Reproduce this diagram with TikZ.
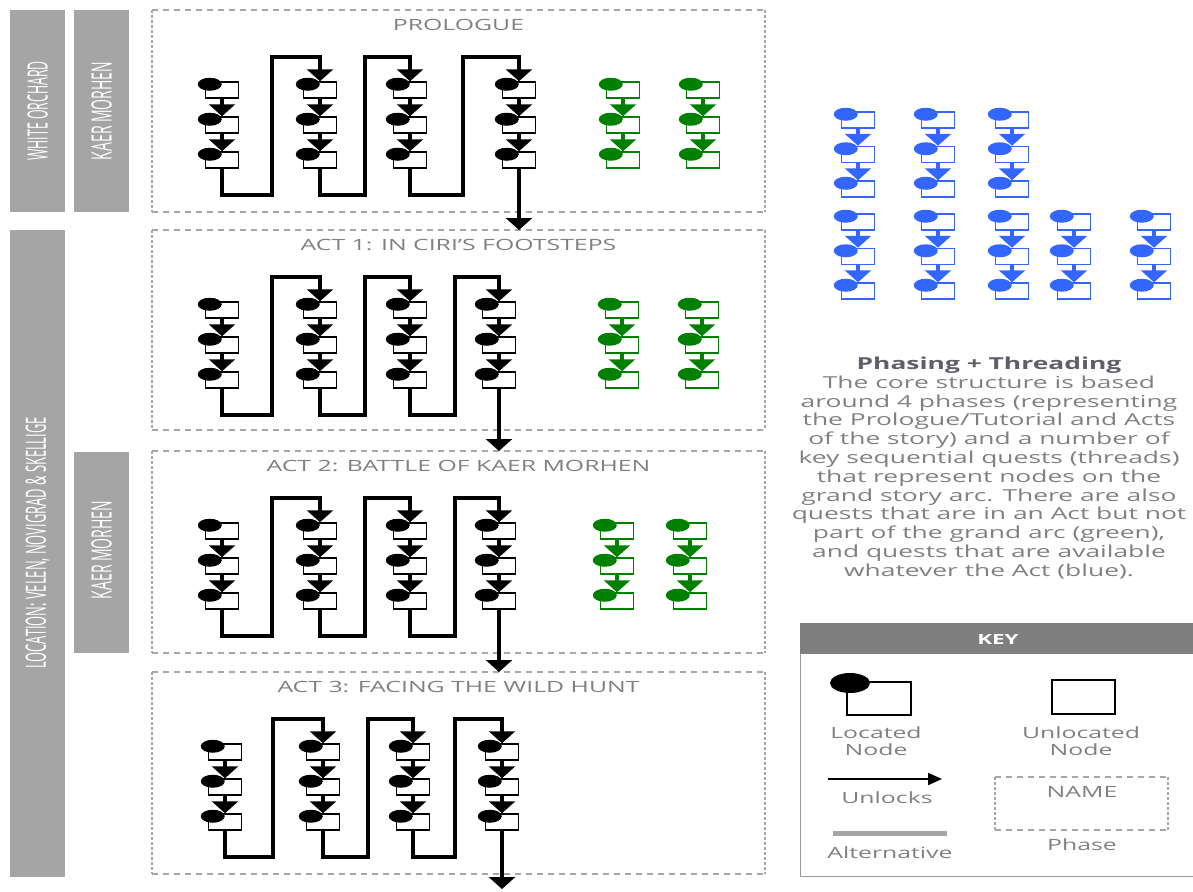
\documentclass[tikz,border=0pt]{standalone}
\usepackage{fontspec}
\setmainfont{Open Sans}
\newfontfamily\widefont[FakeStretch=1.6]{Open Sans}
\newfontfamily\narrowfont[FakeStretch=0.5]{Open Sans}
\newfontfamily\narrowerfont[FakeStretch=0.44]{Open Sans}
\newfontfamily\locfont[FakeStretch=0.46]{Open Sans}
\usetikzlibrary{arrows.meta,shapes.geometric,calc}
\definecolor{bargray}{HTML}{A5A5A5}
\definecolor{dashgray}{HTML}{A6A6A6}
\definecolor{txtgray}{HTML}{808080}
\definecolor{headgray}{HTML}{5F5F66}
\definecolor{qgreen}{HTML}{008000}
\definecolor{qblue}{HTML}{3366FF}
\definecolor{keyhead}{HTML}{7F7F7F}
\definecolor{keyline}{HTML}{9A9A9A}

\tikzset{
  qbox/.style={draw=#1, line width=1.5pt, rectangle, minimum width=33pt, minimum height=16pt, inner sep=0pt},
  qdot/.style={ellipse, fill=#1, minimum width=24pt, minimum height=13pt, inner sep=0pt},
  qarrow/.style={draw=#1, line width=4pt, -{Triangle[width=26pt,length=12pt]}},
  thread/.style={draw=black, line width=4.5pt},
  threadend/.style={thread, -{Triangle[width=26pt,length=12pt]}},
  hdash/.style={draw=dashgray, line width=1.5pt, dash pattern=on 6pt off 5pt},
  vdash/.style={draw=dashgray, line width=1.5pt, dash pattern=on 3pt off 2pt},
  bar/.style={fill=bargray, inner sep=0pt, minimum height=55pt, rotate=90},
  bartext/.style={text=white, inner sep=0pt, rotate=90},
  phasetitle/.style={text=txtgray, font=\widefont\fontsize{15.5}{18}\selectfont, inner sep=0pt},
  keytxt/.style={text=txtgray, font=\widefont\fontsize{15.5}{17}\selectfont, align=center, inner sep=0pt},
}

% one thread column: name, x, top y of first box, colour, pitch
\newcommand\qcol[5]{%
  \foreach \k in {1,2,3}{%
    \node[qbox=#4] (#1r\k) at (#2,{#3+8+(\k-1)*#5}) {};
    \node[qdot=#4] (#1e\k) at ($(#1r\k.north west)+(5,3)$) {};
  }%
  \draw[qarrow=#4] (#1r1.south) -- (#1r2.north);
  \draw[qarrow=#4] (#1r2.south) -- (#1r3.north);
}

% dashed phase box: name, x1, y1, x2, y2, title
\newcommand\phasebox[6]{%
  \coordinate (#1nw) at (#2,#3);
  \coordinate (#1se) at (#4,#5);
  \draw[hdash] (#1nw) -- (#1nw -| #1se);
  \draw[hdash] (#1nw |- #1se) -- (#1se);
  \draw[vdash] (#1nw) -- (#1nw |- #1se);
  \draw[vdash] (#1nw -| #1se) -- (#1se);
  \node[phasetitle] (#1t) at ({(#2+#4)/2},{#3+15}) {#6};
}

% main thread of a phase: name, top y, 4 column x, 3 riser x
\newcommand\mainthread[9]{%
  \qcol{#1c1}{#3}{#2+72}{black}{35}%
  \qcol{#1c2}{#4}{#2+72}{black}{35}%
  \qcol{#1c3}{#5}{#2+72}{black}{35}%
  \qcol{#1c4}{#6}{#2+72}{black}{35}%
  \coordinate (#1u1b) at (#7,{#2+185}); \coordinate (#1u1t) at (#7,{#2+47});
  \coordinate (#1u2b) at (#8,{#2+185}); \coordinate (#1u2t) at (#8,{#2+47});
  \coordinate (#1u3b) at (#9,{#2+185}); \coordinate (#1u3t) at (#9,{#2+47});
  \draw[threadend] (#1c1r3.south) |- (#1u1b) -- (#1u1t) -| (#1c2r1.north);
  \draw[threadend] (#1c2r3.south) |- (#1u2b) -- (#1u2t) -| (#1c3r1.north);
  \draw[threadend] (#1c3r3.south) |- (#1u3b) -- (#1u3t) -| (#1c4r1.north);
}

\begin{document}
\begin{tikzpicture}[x=1pt,y=-1pt]
\useasboundingbox (0,0) rectangle (1193,891);
\fill[white] (0,0) rectangle (1193,891);

% side bars
\node[bar, minimum width=202pt] (wo)  at (37.5,111)   {};
\node[bartext, font=\narrowerfont\fontsize{28}{30}\selectfont] (wot) at (wo.center) {WHITE ORCHARD};
\node[bar, minimum width=202pt] (km1) at (101.5,111)  {};
\node[bartext, font=\narrowfont\fontsize{28}{30}\selectfont] (km1t) at (km1.center) {KAER MORHEN};
\node[bar, minimum width=647pt] (loc) at (37.5,553.5) {};
\node[bartext, font=\locfont\fontsize{28}{30}\selectfont] (loct) at (37.5,543) {LOCATION: VELEN, NOVIGRAD \& SKELLIGE};
\node[bar, minimum width=201pt] (km2) at (101.5,552.5) {};
\node[bartext, font=\narrowfont\fontsize{28}{30}\selectfont] (km2t) at (101.5,550) {KAER MORHEN};

% phases
\phasebox{P}{152}{10}{765}{212}{PROLOGUE}
\phasebox{A}{152}{230}{765}{430}{ACT 1: IN CIRI’S FOOTSTEPS}
\phasebox{B}{152}{451}{765}{653}{ACT 2: BATTLE OF KAER MORHEN}
\phasebox{C}{152}{672}{765}{874}{ACT 3: FACING THE WILD HUNT}

\mainthread{P}{10}{222}{320}{410}{519}{272}{365}{463}
\mainthread{A}{230}{222}{320}{410}{499}{272}{365}{455}
\mainthread{B}{451}{222}{320}{410}{499}{272}{365}{455}
\mainthread{C}{672}{225}{323}{413}{502}{273}{368}{455}

\coordinate (bottomend) at (0,889);
\draw[threadend] (Pc4r3.south) -- (Pc4r3.south |- Anw);
\draw[threadend] (Ac4r3.south) -- (Ac4r3.south |- Bnw);
\draw[threadend] (Bc4r3.south) -- (Bc4r3.south |- Cnw);
\draw[threadend] (Cc4r3.south) -- (Cc4r3.south |- bottomend);

% green side quests
\qcol{Pg1}{623}{82}{qgreen}{35}
\qcol{Pg2}{703}{82}{qgreen}{35}
\qcol{Ag1}{622}{302}{qgreen}{35}
\qcol{Ag2}{702}{302}{qgreen}{35}
\qcol{Bg1}{617}{523}{qgreen}{35}
\qcol{Bg2}{690}{523}{qgreen}{35}

% blue quests
\qcol{Q1}{858}{112}{qblue}{34.5}
\qcol{Q2}{938}{112}{qblue}{34.5}
\qcol{Q3}{1012}{112}{qblue}{34.5}
\qcol{Q4}{858}{214}{qblue}{34.5}
\qcol{Q5}{938}{214}{qblue}{34.5}
\qcol{Q6}{1012}{214}{qblue}{34.5}
\qcol{Q7}{1074}{214}{qblue}{34.5}
\qcol{Q8}{1154}{214}{qblue}{34.5}

% description
\node[align=center, text=txtgray, inner sep=0pt, font=\widefont\fontsize{16.5}{18.8}\selectfont] (desc) at (989,468)
{{\bfseries\color{headgray}Phasing + Threading}\\
The core structure is based\\
around 4 phases (representing\\
the Prologue/Tutorial and Acts\\
of the story) and a number of\\
key sequential quests (threads)\\
that represent nodes on the\\
grand story arc. There are also\\
quests that are in an Act but not\\
part of the grand arc (green),\\
and quests that are available\\
whatever the Act (blue).};

% key
\node[draw=keyline, line width=1pt, minimum width=400pt, minimum height=253pt, inner sep=0pt, anchor=north west] (keybox) at (800,623) {};
\node[fill=keyhead, minimum width=400pt, minimum height=31pt, inner sep=0pt, anchor=north west] (keyhead) at (800,623) {};
\node[text=white, font=\widefont\bfseries\fontsize{14}{16}\selectfont] (keyt) at (998,639) {KEY};

\node[draw=black, line width=2pt, minimum width=64pt, minimum height=33pt, inner sep=0pt] (klbox) at (879,698.5) {};
\node[ellipse, fill=black, minimum width=40pt, minimum height=20pt, inner sep=0pt] (kldot) at (850,683) {};
\node[keytxt] (kltxt) at (876,741) {Located\\Node};

\node[draw=black, line width=2pt, minimum width=63pt, minimum height=34pt, inner sep=0pt] (kubox) at (1083.5,697) {};
\node[keytxt] (kutxt) at (1081,741) {Unlocated\\Node};

\coordinate (kas) at (828,779);
\coordinate (kae) at (942,779);
\draw[line width=2pt, -{Triangle[width=12pt,length=14pt]}] (kas) -- (kae);
\node[keytxt] (katxt) at (887,798) {Unlocks};

\coordinate (kls) at (833,833);
\coordinate (kle) at (947,833);
\draw[draw=bargray, line width=5pt] (kls) -- (kle);
\node[keytxt] (kalt) at (890,853) {Alternative};

\coordinate (kpnw) at (995,777);
\coordinate (kpse) at (1168,830);
\draw[hdash] (kpnw) -- (kpnw -| kpse);
\draw[hdash] (kpnw |- kpse) -- (kpse);
\draw[vdash] (kpnw) -- (kpnw |- kpse);
\draw[vdash] (kpnw -| kpse) -- (kpse);
\node[keytxt] (kname) at (1082,792) {NAME};
\node[keytxt] (kphase) at (1082,845) {Phase};
\end{tikzpicture}
\end{document}
